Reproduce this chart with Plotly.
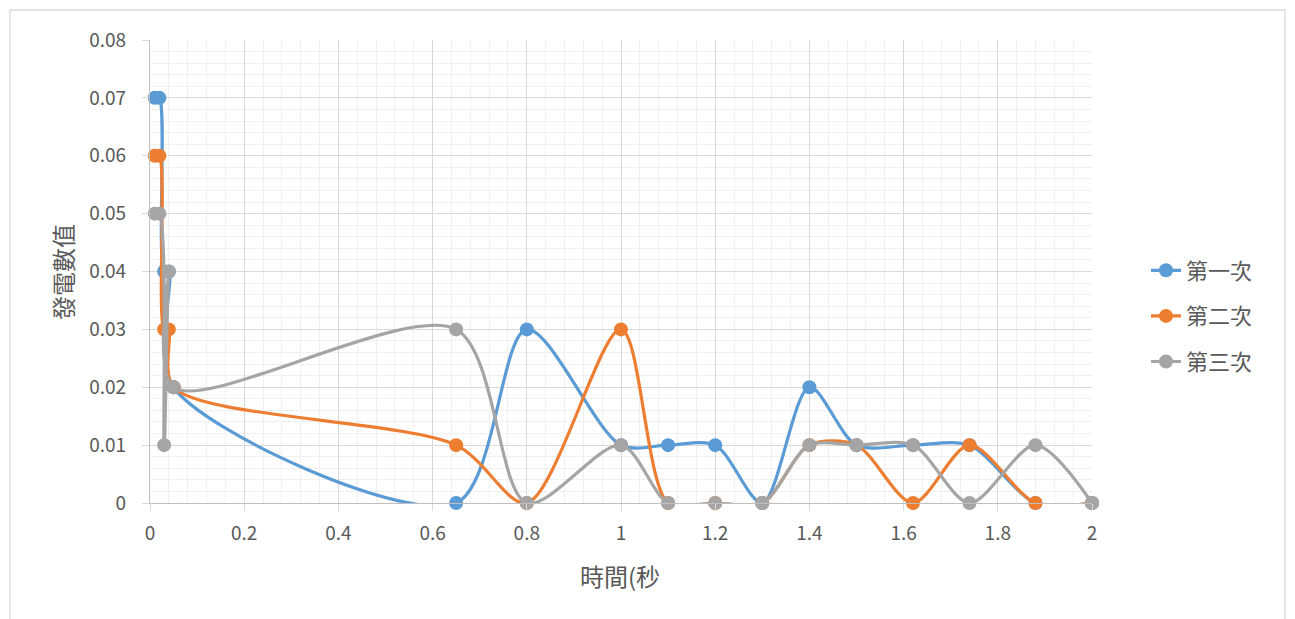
import plotly.graph_objects as go

# Sample times (seconds) shared by all three runs
time_s = [0.01, 0.02, 0.03, 0.04, 0.05, 0.65, 0.8, 1.0, 1.1, 1.2, 1.3,
          1.4, 1.5, 1.62, 1.74, 1.88, 2.0]

# Generated values for each run
run_1 = [0.07, 0.07, 0.04, 0.04, 0.02, 0.0, 0.03, 0.01, 0.01, 0.01, 0.0,
         0.02, 0.01, 0.01, 0.01, 0.0, 0.0]
run_2 = [0.06, 0.06, 0.03, 0.03, 0.02, 0.01, 0.0, 0.03, 0.0, 0.0, 0.0,
         0.01, 0.01, 0.0, 0.01, 0.0, 0.0]
run_3 = [0.05, 0.05, 0.01, 0.04, 0.02, 0.03, 0.0, 0.01, 0.0, 0.0, 0.0,
         0.01, 0.01, 0.01, 0.0, 0.01, 0.0]

series_names = ["第一次", "第二次", "第三次"]
series_colors = ["#5B9BD5", "#ED7D31", "#A5A5A5"]

x_ticks = [0, 0.2, 0.4, 0.6, 0.8, 1, 1.2, 1.4, 1.6, 1.8, 2]
x_tick_text = ["0", "0.2", "0.4", "0.6", "0.8", "1", "1.2", "1.4", "1.6", "1.8", "2"]
y_ticks = [0, 0.01, 0.02, 0.03, 0.04, 0.05, 0.06, 0.07, 0.08]
y_tick_text = ["0", "0.01", "0.02", "0.03", "0.04", "0.05", "0.06", "0.07", "0.08"]

W, H = 1295, 619
L, R, T, B = 150, 203, 40, 116
TEXT = "#595959"
FONT = "Noto Sans CJK TC"

fig = go.Figure()
for name, ys, color in zip(series_names, [run_1, run_2, run_3], series_colors):
    fig.add_trace(go.Scatter(
        x=time_s, y=ys, name=name, legendgroup=name,
        mode="lines+markers", cliponaxis=False,
        line=dict(color=color, width=3.2, shape="spline", smoothing=0.85),
        marker=dict(color=color, size=14),
    ))

pw = W - L - R
ph = H - T - B


def px_x(p):
    return (p - L) / pw


def px_y(p):
    return (H - B - p) / ph


fig.update_layout(
    width=W, height=H,
    margin=dict(l=L, r=R, t=T, b=B),
    paper_bgcolor="white", plot_bgcolor="white",
    font=dict(family=FONT, color=TEXT, size=18),
    showlegend=True,
    legend=dict(
        x=px_x(1146), y=px_y(316), xanchor="left", yanchor="middle",
        font=dict(size=22, color=TEXT, family=FONT),
        tracegroupgap=14, bgcolor="rgba(0,0,0,0)",
    ),
    xaxis=dict(
        range=[0, 2], tickvals=x_ticks, ticktext=x_tick_text,
        showgrid=True, gridcolor="#D9D9D9", gridwidth=1.3,
        minor=dict(dtick=0.04, tick0=0, showgrid=True, gridcolor="#F0F0F0", gridwidth=1.3),
        zeroline=False, showline=True, linecolor="#BFBFBF", linewidth=1.3,
        ticks="outside", ticklen=7, tickcolor="#D9D9D9",
        tickfont=dict(family=FONT, size=19, color=TEXT),
        ticklabelstandoff=6,
    ),
    yaxis=dict(
        range=[0, 0.08], tickvals=y_ticks, ticktext=y_tick_text,
        showgrid=True, gridcolor="#D9D9D9", gridwidth=1.3,
        minor=dict(dtick=0.002, tick0=0, showgrid=True, gridcolor="#F0F0F0", gridwidth=1.3),
        zeroline=False, showline=True, linecolor="#BFBFBF", linewidth=1.3,
        ticks="outside", ticklen=7, tickcolor="#D9D9D9",
        tickfont=dict(family=FONT, size=19, color=TEXT),
        ticklabelstandoff=12,
    ),
    annotations=[
        dict(text="時間(秒", x=px_x(620), y=px_y(575), xref="paper", yref="paper",
             showarrow=False, font=dict(size=24, color=TEXT, family=FONT),
             xanchor="center", yanchor="middle"),
        dict(text="發電數值", x=px_x(62), y=px_y(272), xref="paper", yref="paper",
             showarrow=False, textangle=-90, font=dict(size=24, color=TEXT, family=FONT),
             xanchor="center", yanchor="middle"),
    ],
    shapes=[
        dict(type="rect", xref="paper", yref="paper",
             x0=px_x(10), x1=px_x(1285), y0=px_y(625), y1=px_y(10),
             line=dict(color="#D9D9D9", width=1.3), fillcolor="rgba(0,0,0,0)", layer="below"),
    ],
)

fig.write_html("out.html")
